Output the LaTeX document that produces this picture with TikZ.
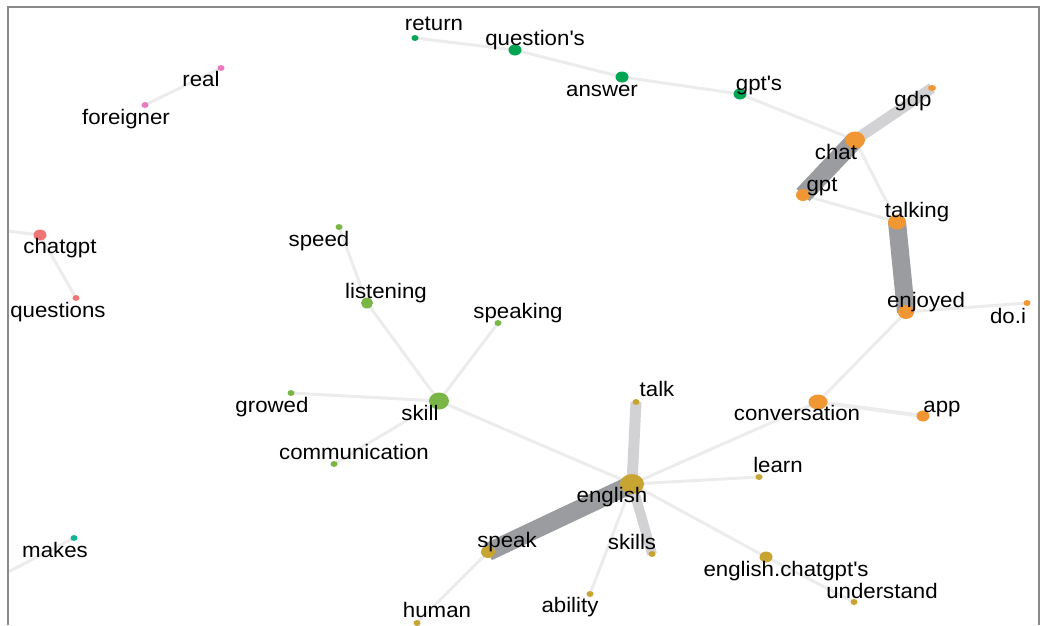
\documentclass[tikz,border=0pt]{standalone}
\usepackage{fontspec}
\setmainfont{Liberation Sans}[FakeStretch=1.06]
\usetikzlibrary{shapes.geometric}
\pgfdeclarelayer{edges}
\pgfsetlayers{edges,main}

\definecolor{cdgreen}{RGB}{0,166,84}
\definecolor{corange}{RGB}{240,150,50}
\definecolor{cgold}{RGB}{200,164,50}
\definecolor{clgreen}{RGB}{122,182,70}
\definecolor{cpink}{RGB}{232,122,192}
\definecolor{csalmon}{RGB}{240,118,118}
\definecolor{cteal}{RGB}{20,180,150}
\definecolor{cband}{RGB}{155,156,160}
\definecolor{clband}{RGB}{210,210,212}
\definecolor{cthin}{RGB}{236,236,236}
\definecolor{cframe}{RGB}{138,138,138}

\newcommand{\apo}{\textquotesingle}

\tikzset{
  dot/.style n args={3}{ellipse, inner sep=0pt, fill=#1,
    minimum width=#2pt, minimum height=#3pt},
  lbl/.style={anchor=base, inner sep=0pt, font=\fontsize{21}{21}\selectfont, text=black},
  thin edge/.style={draw=cthin, line width=3pt},
  heavy edge/.style={draw=cband, line width=18pt},
  mid edge/.style={draw=clband, line width=11pt},
}

\begin{document}
\begin{tikzpicture}[x=1pt, y=-1pt]
\useasboundingbox (0,0) rectangle (1040,625);

% frame (open at the bottom)
\draw[cframe, line width=2pt] (8,625) -- (8,7) -- (1039,7) -- (1039,625);

% ---- pink pair
\node[dot={cpink}{7}{6}] (real) at (221,68) {};
\node[dot={cpink}{7}{6}] (foreigner) at (145,105) {};
\node[lbl] (real-t) at (201,86) {real};
\node[lbl] (foreigner-t) at (126,124) {foreigner};

% ---- dark green chain
\node[dot={cdgreen}{7}{6}] (return) at (415,38) {};
\node[dot={cdgreen}{13}{11}] (questions2) at (515,50) {};
\node[dot={cdgreen}{13}{11}] (answer) at (622,77) {};
\node[dot={cdgreen}{13}{11}] (gpts) at (740,94) {};
\node[lbl] (return-t) at (434,30) {return};
\node[lbl] (questions2-t) at (535,45) {question\apo s};
\node[lbl] (answer-t) at (602,96) {answer};
\node[lbl] (gpts-t) at (759,90) {gpt\apo s};

% ---- orange cluster
\node[dot={corange}{8}{6}] (gdp) at (932,88) {};
\node[dot={corange}{20}{17}] (chat) at (855,140) {};
\node[dot={corange}{14}{12}] (gpt) at (803,195) {};
\node[dot={corange}{18}{15}] (talking) at (897,222) {};
\node[dot={corange}{16}{14}] (enjoyed) at (906,312) {};
\node[dot={corange}{7}{6}] (doi) at (1027,303) {};
\node[dot={corange}{19}{15}] (conversation) at (818,402) {};
\node[dot={corange}{13}{11}] (app) at (923,416) {};
\node[lbl] (gdp-t) at (913,106) {gdp};
\node[lbl] (chat-t) at (836,159) {chat};
\node[lbl] (gpt-t) at (822,191) {gpt};
\node[lbl] (talking-t) at (917,217) {talking};
\node[lbl] (enjoyed-t) at (926,307) {enjoyed};
\node[lbl] (doi-t) at (1008,323) {do.i};
\node[lbl] (conversation-t) at (797,420) {conversation};
\node[lbl] (app-t) at (942,412) {app};

% ---- salmon pair
\node[dot={csalmon}{13}{11}] (chatgpt) at (40,235) {};
\node[dot={csalmon}{7}{6}] (questions) at (76,298) {};
\coordinate (chatgpt-out) at (8,231);
\node[lbl] (chatgpt-t) at (60,253) {chatgpt};
\node[lbl] (questions-t) at (58,317) {questions};

% ---- teal
\node[dot={cteal}{7}{6}] (makes) at (74,538) {};
\coordinate (makes-out) at (8,572);
\node[lbl] (makes-t) at (55,557) {makes};

% ---- light green cluster
\node[dot={clgreen}{7}{6}] (speed) at (339,227) {};
\node[dot={clgreen}{12}{11}] (listening) at (367,303) {};
\node[dot={clgreen}{7}{6}] (speaking) at (498,323) {};
\node[dot={clgreen}{20}{17}] (skill) at (439,401) {};
\node[dot={clgreen}{7}{6}] (growed) at (291,393) {};
\node[dot={clgreen}{7}{6}] (communication) at (334,464) {};
\node[lbl] (speed-t) at (319,246) {speed};
\node[lbl] (listening-t) at (386,298) {listening};
\node[lbl] (speaking-t) at (518,318) {speaking};
\node[lbl] (skill-t) at (420,420) {skill};
\node[lbl] (growed-t) at (272,412) {growed};
\node[lbl] (communication-t) at (354,459) {communication};

% ---- gold cluster
\node[dot={cgold}{7}{6}] (talk) at (636,402) {};
\node[dot={cgold}{24}{20}] (english) at (632,484) {};
\node[dot={cgold}{7}{6}] (learn) at (759,477) {};
\node[dot={cgold}{14}{12}] (speak) at (488,552) {};
\node[dot={cgold}{7}{6}] (skills) at (652,554) {};
\node[dot={cgold}{13}{11}] (englishchat) at (766,557) {};
\node[dot={cgold}{7}{6}] (understand) at (854,602) {};
\node[dot={cgold}{7}{6}] (ability) at (590,594) {};
\node[dot={cgold}{7}{6}] (human) at (417,623) {};
\node[lbl] (talk-t) at (657,396) {talk};
\node[lbl] (english-t) at (612,502) {english};
\node[lbl] (learn-t) at (778,472) {learn};
\node[lbl] (speak-t) at (507,547) {speak};
\node[lbl] (skills-t) at (632,549) {skills};
\node[lbl] (englishchat-t) at (786,576) {english.chatgpt\apo s};
\node[lbl] (understand-t) at (882,598) {understand};
\node[lbl] (ability-t) at (570,612) {ability};
\node[lbl] (human-t) at (437,617) {human};

% ---- connectors, beneath the dots
\begin{pgfonlayer}{edges}
  \draw[thin edge] (real.center) -- (foreigner.center);
  \draw[thin edge] (return.center) -- (questions2.center) -- (answer.center) -- (gpts.center) -- (chat.center);
  \draw[thin edge] (chat.center) -- (talking.center);
  \draw[thin edge] (gpt.center) -- (talking.center);
  \draw[thin edge] (enjoyed.center) -- (doi.center);
  \draw[thin edge] (enjoyed.center) -- (conversation.center);
  \draw[thin edge, line width=4pt] (conversation.center) -- (app.center);
  \draw[thin edge] (conversation.center) -- (english.center);
  \draw[thin edge] (chatgpt-out) -- (chatgpt.center) -- (questions.center);
  \draw[thin edge] (makes-out) -- (makes.center);
  \draw[thin edge] (speed.center) -- (listening.center) -- (skill.center);
  \draw[thin edge] (speaking.center) -- (skill.center);
  \draw[thin edge] (growed.center) -- (skill.center);
  \draw[thin edge] (communication.center) -- (skill.center);
  \draw[thin edge] (skill.center) -- (english.center);
  \draw[thin edge] (english.center) -- (learn.center);
  \draw[thin edge] (english.center) -- (englishchat.center) -- (understand.center);
  \draw[thin edge] (english.center) -- (ability.center);
  \draw[thin edge] (speak.center) -- (human.center);
  \draw[mid edge] (chat.center) -- (gdp.center);
  \draw[mid edge] (english.center) -- (talk.center);
  \draw[mid edge, line width=10pt] (english.center) -- (skills.center);
  \draw[heavy edge] (chat.center) -- (gpt.center);
  \draw[heavy edge] (talking.center) -- (enjoyed.center);
  \draw[heavy edge] (english.center) -- (speak.center);
\end{pgfonlayer}
\end{tikzpicture}
\end{document}
